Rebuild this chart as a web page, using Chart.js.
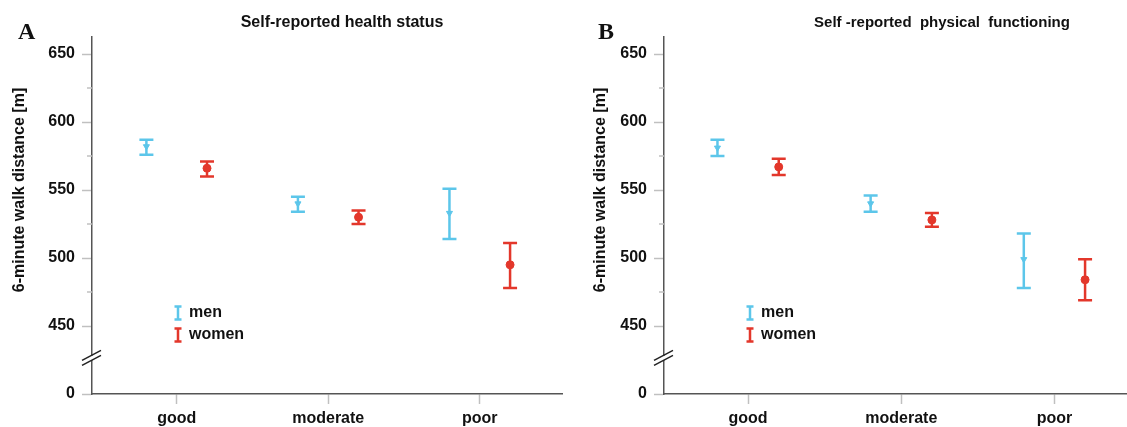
<!DOCTYPE html>
<html>
<head>
<meta charset="utf-8">
<script src="https://cdn.jsdelivr.net/npm/chart.js@4.4.1/dist/chart.umd.min.js"></script>
<style>
  body { margin: 0; background: #fff; }
  #wrap { position: relative; width: 1127px; height: 427px; overflow: hidden; }
  .panel { position: absolute; top: 0; height: 427px; }
</style>
</head>
<body>
<div id="wrap">
  <div class="panel" style="left:0;width:572px"><canvas id="chartA"></canvas></div>
  <div class="panel" style="left:572px;width:565px"><canvas id="chartB"></canvas></div>
</div>
<script>
// ---- data ----
const categories = ['good', 'moderate', 'poor'];
const seriesNames = ['men', 'women'];

// A: self-reported health status (mean and error bar ends, metres)
const healthMenMean = [582, 540, 533];
const healthMenLow = [576, 534, 514];
const healthMenHigh = [587, 545, 551];
const healthWomenMean = [566, 530, 495];
const healthWomenLow = [560, 525, 478];
const healthWomenHigh = [571, 535, 511];

// B: self-reported physical functioning
const physMenMean = [581, 540, 499];
const physMenLow = [575, 534, 478];
const physMenHigh = [587, 546, 518];
const physWomenMean = [567, 528, 484];
const physWomenLow = [561, 523, 469];
const physWomenHigh = [573, 533, 499];

// y axis: broken axis, the bottom tick stands for 0
const yMajorTicks = [400, 450, 500, 550, 600, 650];
const yMinorTicks = [475, 525, 575, 625];
const breakValue = 426.5;

const MEN = '#5cc6ea';
const WOMEN = '#e3372b';
const FONT = '"Liberation Sans", Arial, sans-serif';

Chart.defaults.font.family = FONT;
Chart.defaults.font.size = 16;
Chart.defaults.font.weight = 'bold';
Chart.defaults.color = '#111';

function barPoints(offset, low, high) {
  const pts = [];
  low.forEach((lo, i) => {
    pts.push({x: i + offset, y: lo}, {x: i + offset, y: high[i]}, {x: i + offset, y: null});
  });
  return pts;
}

function meanPoints(offset, mean) {
  return mean.map((m, i) => ({x: i + offset, y: m}));
}

// draws panel letter, title, y title, minor ticks, axis break and legend
const panelExtras = {
  id: 'panelExtras',
  afterDraw(chart, args, o) {
    const ctx = chart.ctx;
    const ca = chart.chartArea;
    const ys = chart.scales.y;
    ctx.save();
    ctx.fillStyle = '#111';

    ctx.font = 'bold 24px "Liberation Serif", "Times New Roman", serif';
    ctx.textAlign = 'left';
    ctx.textBaseline = 'alphabetic';
    ctx.fillText(o.letter, o.letterX, 39);

    ctx.font = 'bold ' + o.titleSize + 'px ' + FONT;
    ctx.textAlign = 'center';
    ctx.textBaseline = 'middle';
    ctx.fillText(o.title, o.titleX, 23);

    ctx.save();
    ctx.font = 'bold 16px ' + FONT;
    ctx.translate(o.yTitleX, 190);
    ctx.rotate(-Math.PI / 2);
    ctx.fillText('6-minute walk distance [m]', 0, 0);
    ctx.restore();

    // minor ticks
    ctx.strokeStyle = '#c0c0c0';
    ctx.lineWidth = 1.5;
    yMinorTicks.forEach(v => {
      const y = ys.getPixelForValue(v);
      ctx.beginPath();
      ctx.moveTo(ca.left - 5, y);
      ctx.lineTo(ca.left, y);
      ctx.stroke();
    });

    // axis break
    const yb = ys.getPixelForValue(breakValue);
    ctx.fillStyle = '#fff';
    ctx.fillRect(ca.left - 2, yb - 2, 4, 4);
    ctx.strokeStyle = '#222';
    ctx.lineWidth = 1.5;
    [-2.5, 2.5].forEach(d => {
      ctx.beginPath();
      ctx.moveTo(ca.left - 10, yb + d + 5);
      ctx.lineTo(ca.left + 9, yb + d - 5);
      ctx.stroke();
    });

    // legend
    const cx = ca.left + 86;
    [[seriesNames[0], MEN, 313], [seriesNames[1], WOMEN, 335]].forEach(([name, col, cy]) => {
      ctx.strokeStyle = col;
      ctx.lineWidth = 2.5;
      ctx.beginPath();
      ctx.moveTo(cx, cy - 6.5); ctx.lineTo(cx, cy + 6.5);
      ctx.moveTo(cx - 3.5, cy - 6.5); ctx.lineTo(cx + 3.5, cy - 6.5);
      ctx.moveTo(cx - 3.5, cy + 6.5); ctx.lineTo(cx + 3.5, cy + 6.5);
      ctx.stroke();
      ctx.fillStyle = '#111';
      ctx.font = 'bold 16px ' + FONT;
      ctx.textAlign = 'left';
      ctx.textBaseline = 'middle';
      ctx.fillText(name, cx + 11, cy);
    });
    ctx.restore();
  }
};

function makePanel(id, p) {
  const off = 0.2;
  return new Chart(document.getElementById(id), {
    data: {
      datasets: [
        {type: 'scatter', data: meanPoints(-off, p.menMean), pointStyle: 'triangle', rotation: 180,
         pointRadius: 3.5, backgroundColor: MEN, borderColor: MEN, borderWidth: 1},
        {type: 'scatter', data: meanPoints(off, p.womenMean), pointStyle: 'circle',
         pointRadius: 4, backgroundColor: WOMEN, borderColor: WOMEN, borderWidth: 1},
        {type: 'line', data: barPoints(-off, p.menLow, p.menHigh), borderColor: MEN, borderWidth: 2.5,
         pointStyle: 'line', pointRadius: 7, pointBorderWidth: 2.5, pointBorderColor: MEN, spanGaps: false, fill: false},
        {type: 'line', data: barPoints(off, p.womenLow, p.womenHigh), borderColor: WOMEN, borderWidth: 2.5,
         pointStyle: 'line', pointRadius: 7, pointBorderWidth: 2.5, pointBorderColor: WOMEN, spanGaps: false, fill: false}
      ]
    },
    options: {
      responsive: true,
      maintainAspectRatio: false,
      animation: false,
      events: [],
      layout: {padding: {left: 0, right: p.padRight, top: 37, bottom: 0}},
      scales: {
        x: {
          type: 'linear', min: p.xMin, max: p.xMax,
          afterBuildTicks: s => { s.ticks = categories.map((c, i) => ({value: i})); },
          afterFit: s => { s.height = 33; },
          ticks: {padding: 5, color: '#111', callback: v => categories[v]},
          grid: {drawOnChartArea: false, tickLength: 10, tickColor: '#c0c0c0', tickWidth: 1.5},
          border: {color: '#555', width: 1.5}
        },
        y: {
          type: 'linear', min: 400, max: 662.5,
          afterBuildTicks: s => { s.ticks = yMajorTicks.map(v => ({value: v})); },
          afterFit: s => { s.width = 92; },
          ticks: {padding: 7, color: '#111', callback: v => (v === 400 ? '0' : String(v))},
          grid: {drawOnChartArea: false, tickLength: 10, tickColor: '#c0c0c0', tickWidth: 1.5},
          border: {color: '#555', width: 1.5}
        }
      },
      plugins: {
        legend: {display: false},
        tooltip: {enabled: false},
        panelExtras: p.extras
      }
    },
    plugins: [panelExtras]
  });
}

makePanel('chartA', {
  menMean: healthMenMean, menLow: healthMenLow, menHigh: healthMenHigh,
  womenMean: healthWomenMean, womenLow: healthWomenLow, womenHigh: healthWomenHigh,
  xMin: -0.559, xMax: 2.546, padRight: 8,
  extras: {letter: 'A', letterX: 18, title: 'Self-reported health status', titleX: 342, titleSize: 16, yTitleX: 20}
});

makePanel('chartB', {
  menMean: physMenMean, menLow: physMenLow, menHigh: physMenHigh,
  womenMean: physWomenMean, womenLow: physWomenLow, womenHigh: physWomenHigh,
  xMin: -0.549, xMax: 2.477, padRight: 0,
  extras: {letter: 'B', letterX: 26, title: 'Self -reported  physical  functioning', titleX: 370, titleSize: 15, yTitleX: 29}
});
</script>
</body>
</html>
